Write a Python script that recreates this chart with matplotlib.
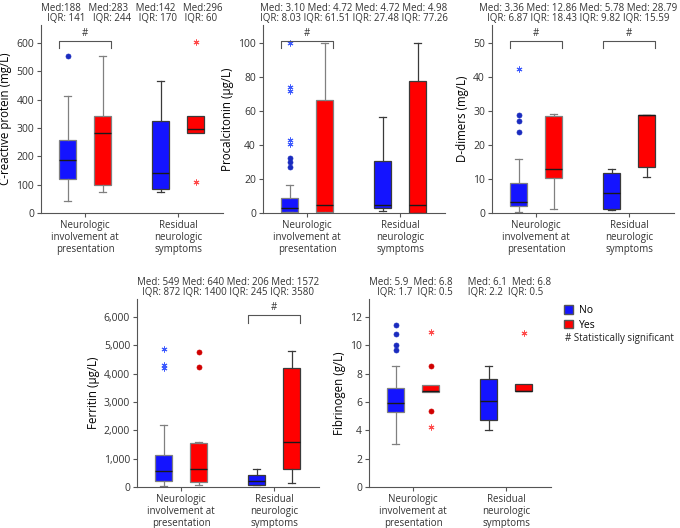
import matplotlib
matplotlib.use("Agg")
import matplotlib.pyplot as plt
from matplotlib.patches import Patch
from matplotlib.ticker import FuncFormatter
import matplotlib.transforms as mtransforms

plt.rcParams['font.family'] = ['Open Sans', 'DejaVu Sans']
plt.rcParams['font.size'] = 7.0

groups = ["Neurologic\ninvolvement at\npresentation", "Residual\nneurologic\nsymptoms"]

# box order: No / Yes for involvement, then No / Yes for residual symptoms
crp_q1 = [119, 98, 84, 281]
crp_med = [188, 283, 142, 296]
crp_q3 = [258, 342, 326, 342]
crp_lo = [43, 73, 73, 281]
crp_hi = [414, 552, 467, 342]
crp_dots = [[552], [], [], []]
crp_stars = [[], [], [], [602, 108]]
crp_med_txt = ["188", "283", "142", "296"]
crp_iqr_txt = ["141", "244", "170", "60"]

pct_q1 = [0.8, 0.4, 2.9, 0.0]
pct_med = [3.10, 4.72, 4.72, 4.98]
pct_q3 = [8.6, 66.7, 30.4, 77.6]
pct_lo = [0.4, 0.2, 1.4, 0.0]
pct_hi = [16.5, 100, 56.3, 100]
pct_dots = [[32.4, 30.0, 26.9], [], [], []]
pct_stars = [[100, 74, 72, 43, 40.6], [], [], []]
pct_med_txt = ["3.10", "4.72", "4.72", "4.98"]
pct_iqr_txt = ["8.03", "61.51", "27.48", "77.26"]

dd_q1 = [2.0, 10.3, 1.2, 13.5]
dd_med = [3.36, 12.86, 5.78, 28.79]
dd_q3 = [8.8, 28.6, 11.7, 28.8]
dd_lo = [0.3, 1.1, 0.8, 10.6]
dd_hi = [16.0, 29.0, 12.9, 28.8]
dd_dots = [[28.7, 27.1, 23.9], [], [], []]
dd_stars = [[42.5], [], [], []]
dd_med_txt = ["3.36", "12.86", "5.78", "28.79"]
dd_iqr_txt = ["6.87", "18.43", "9.82", "15.59"]

fer_q1 = [224, 165, 82, 647]
fer_med = [549, 640, 206, 1572]
fer_q3 = [1118, 1541, 424, 4188]
fer_lo = [24, 70, 59, 153]
fer_hi = [2200, 1576, 624, 4812]
fer_dots = [[], [4765, 4224], [], []]
fer_stars = [[4882, 4318, 4200], [], [], []]
fer_med_txt = ["549", "640", "206", "1572"]
fer_iqr_txt = ["872", "1400", "245", "3580"]

fib_q1 = [5.27, 6.68, 4.70, 6.75]
fib_med = [5.9, 6.8, 6.1, 6.8]
fib_q3 = [6.99, 7.22, 7.65, 7.27]
fib_lo = [3.06, 6.68, 4.02, 6.75]
fib_hi = [8.52, 7.22, 8.54, 7.27]
fib_dots = [[11.44, 10.78, 10.0, 9.65], [8.56, 5.39], [], []]
fib_stars = [[], [10.92, 4.24], [], [10.87]]
fib_med_txt = ["5.9", "6.8", "6.1", "6.8"]
fib_iqr_txt = ["1.7", "0.5", "2.2", "0.5"]

fill = ['#1414ff', '#ff0000']
dotc = ['#1a2bbf', '#d00000']
starc = ['#3d5afe', '#ff4b4b']
edge = ['#808080', '#3a3a3a']   # group 1 lighter, group 2 darker
off = 0.188
bw = 0.183


def row(prefix, vals, sep, gsep):
    return prefix + vals[0] + sep + prefix + vals[1] + gsep + prefix + vals[2] + sep + prefix + vals[3]


def panel(ax, q1, med, q3, lo, hi, dots, stars, med_txt, iqr_txt,
          ylabel, ymax, step, sig, prefix="Med: ", sep=" ", gsep=" ", tx=0.5):
    for i in range(4):
        g, s = i // 2, i % 2
        x = g + 1 + (off if s else -off)
        st = [dict(med=med[i], q1=q1[i], q3=q3[i], whislo=lo[i], whishi=hi[i], fliers=dots[i])]
        caps = lo[i] < q1[i] or hi[i] > q3[i]
        ax.bxp(st, positions=[x], widths=bw, patch_artist=True, manage_ticks=False,
               showcaps=caps, capwidths=0.075,
               boxprops=dict(facecolor=fill[s], edgecolor=edge[g], linewidth=0.9),
               whiskerprops=dict(color=edge[g], linewidth=0.9),
               capprops=dict(color=edge[g], linewidth=0.9),
               medianprops=dict(color='#1a1a1a', linewidth=1.0),
               flierprops=dict(marker='o', markerfacecolor=dotc[s], markeredgecolor=dotc[s],
                               markeredgewidth=0.5, markersize=3.6, linestyle='none'))
        if stars[i]:
            ax.plot([x] * len(stars[i]), stars[i], linestyle='none', marker=(6, 2, 0),
                    markersize=4.2, markeredgewidth=0.7, color=starc[s])

    ax.set_xlim(0.527, 2.48)
    ax.set_ylim(0, ymax)
    ax.set_yticks([step * k for k in range(int(ymax // step) + 1)])
    ax.set_xticks([1, 2])
    ax.set_xticklabels(groups, linespacing=1.1, fontsize=7.0)
    ax.set_ylabel(ylabel, fontsize=8.3, labelpad=3)
    for sp in ['top', 'right']:
        ax.spines[sp].set_visible(False)
    for sp in ['left', 'bottom']:
        ax.spines[sp].set_color('#555555')
        ax.spines[sp].set_linewidth(0.8)
    ax.tick_params(length=3, width=0.8, color='#555555', labelcolor='#333333', pad=2)
    ax.tick_params(axis='y', labelsize=7.5)

    ax.annotate(row(prefix, med_txt, sep, gsep), xy=(tx, 1), xycoords='axes fraction',
                xytext=(0, 10.3), textcoords='offset points', ha='center', va='baseline',
                color='#333333', annotation_clip=False)
    ax.annotate(row("IQR: ", iqr_txt, sep, gsep), xy=(tx, 1), xycoords='axes fraction',
                xytext=(0, 2.6), textcoords='offset points', ha='center', va='baseline',
                color='#333333', annotation_clip=False)

    tr = mtransforms.blended_transform_factory(ax.transData, ax.transAxes)
    for g in sig:
        x0 = g + 1 - off - bw / 2
        x1 = g + 1 + off + bw / 2
        ax.plot([x0, x0, x1, x1], [0.875, 0.915, 0.915, 0.875], transform=tr,
                color='#555555', linewidth=0.8, clip_on=False)
        ax.text(g + 1, 0.925, "#", transform=tr, ha='center', va='bottom', color='#333333')


fig = plt.figure(figsize=(6.8, 5.28), dpi=100)
W, H = 680, 528


def add(left, top):
    return fig.add_axes([left / W, 1 - (top + 188) / H, 182 / W, 188 / H])


ax1 = add(41, 25)
ax2 = add(263, 25)
ax3 = add(492, 25)
ax4 = add(137, 299)
ax5 = add(369, 299)

panel(ax1, crp_q1, crp_med, crp_q3, crp_lo, crp_hi, crp_dots, crp_stars, crp_med_txt, crp_iqr_txt,
      "C-reactive protein (mg/L)", 663, 100, [0], prefix="Med:", sep="   ", gsep="   ")
panel(ax2, pct_q1, pct_med, pct_q3, pct_lo, pct_hi, pct_dots, pct_stars, pct_med_txt, pct_iqr_txt,
      "Procalcitonin (µg/L)", 110.6, 20, [0])
panel(ax3, dd_q1, dd_med, dd_q3, dd_lo, dd_hi, dd_dots, dd_stars, dd_med_txt, dd_iqr_txt,
      "D-dimers (mg/L)", 55.3, 10, [0, 1], tx=0.475)
panel(ax4, fer_q1, fer_med, fer_q3, fer_lo, fer_hi, fer_dots, fer_stars, fer_med_txt, fer_iqr_txt,
      "Ferritin (µg/L)", 6635, 1000, [1])
panel(ax5, fib_q1, fib_med, fib_q3, fib_lo, fib_hi, fib_dots, fib_stars, fib_med_txt, fib_iqr_txt,
      "Fibrinogen (g/L)", 13.27, 2, [], sep="  ", gsep="      ")
ax4.yaxis.set_major_formatter(FuncFormatter(lambda v, p: f"{v:,.0f}"))

fig.legend(handles=[Patch(facecolor=fill[0], edgecolor='#555555', label='No'),
                    Patch(facecolor=fill[1], edgecolor='#555555', label='Yes')],
           loc='upper left', bbox_to_anchor=(564 / W, 1 - 305 / H), frameon=False,
           handlelength=0.9, handleheight=0.9, handletextpad=0.5, labelspacing=0.35,
           borderaxespad=0, borderpad=0, fontsize=7.5)
fig.text(565 / W, 1 - 339 / H, "# Statistically significant", va='center', ha='left',
         fontsize=7.0, color='#222222')

fig.savefig("out.png", dpi=100)
